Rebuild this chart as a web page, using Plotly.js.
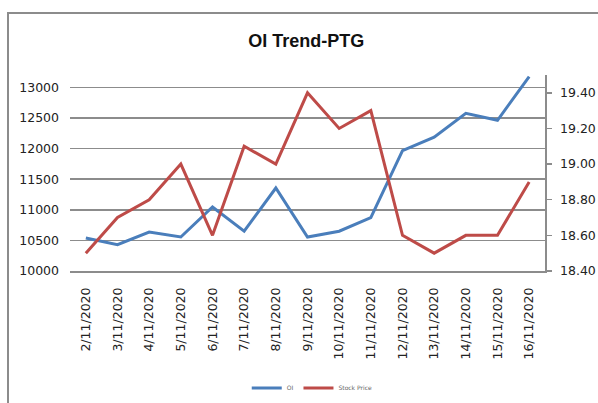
<!DOCTYPE html>
<html>
<head>
<meta charset="utf-8">
<script src="https://cdn.plot.ly/plotly-3.0.1.min.js"></script>
<style>
html,body{margin:0;padding:0;background:#fff;overflow:hidden;}
#frame{position:absolute;left:7px;top:12px;width:700px;height:500px;border:2px solid #8c8c8c;box-sizing:border-box;}
#chart{position:absolute;left:0;top:0;width:598px;height:403px;}
</style>
</head>
<body>
<div id="frame"></div>
<div id="chart"></div>
<script>
const dates = ["2/11/2020","3/11/2020","4/11/2020","5/11/2020","6/11/2020","7/11/2020","8/11/2020","9/11/2020","10/11/2020","11/11/2020","12/11/2020","13/11/2020","14/11/2020","15/11/2020","16/11/2020"];
const oi = [10540,10430,10635,10555,11045,10650,11355,10555,10650,10870,11965,12185,12575,12460,13175];
const stockPrice = [18.50,18.70,18.80,19.00,18.60,19.10,19.00,19.40,19.20,19.30,18.60,18.50,18.60,18.60,18.90];
const leftTicks = [10000,10500,11000,11500,12000,12500,13000];
const rightTicks = [18.40,18.60,18.80,19.00,19.20,19.40];

const tickFont = {family:"DejaVu Sans, Verdana, sans-serif", size:12.5, color:"#222"};

const traces = [
  {x:dates, y:oi, name:"OI", type:"scatter", mode:"lines",
   line:{color:"#4A7EBB", width:3}, yaxis:"y"},
  {x:dates, y:stockPrice, name:"Stock Price", type:"scatter", mode:"lines",
   line:{color:"#BE4B48", width:3}, yaxis:"y2"}
];

const layout = {
  width:598, height:403,
  paper_bgcolor:"rgba(0,0,0,0)", plot_bgcolor:"rgba(0,0,0,0)",
  margin:{l:70, r:53, t:75, b:132},
  title:{text:"<b>OI Trend-PTG</b>", x:0.512, xanchor:"center", y:0.9, yanchor:"middle",
         font:{family:"Liberation Sans, Arial, sans-serif", size:18, color:"#111"}},
  showlegend:true,
  legend:{orientation:"h", x:0.51, xanchor:"center", yref:"container", y:0.037, yanchor:"middle",
          font:{family:"DejaVu Sans, sans-serif", size:6, color:"#666"},
          itemwidth:30, tracegroupgap:0, bgcolor:"rgba(0,0,0,0)"},
  xaxis:{type:"category", tickangle:-90, tickfont:tickFont, showgrid:false,
         showline:true, linecolor:"#8c8c8c", linewidth:1.5, ticks:"",
         ticklabelstandoff:10, range:[-0.5,14.5], fixedrange:true, automargin:false},
  yaxis:{range:[10000,13200], tickvals:leftTicks, ticktext:leftTicks.map(String),
         showgrid:true, gridcolor:"#8c8c8c", gridwidth:1.5, zeroline:false,
         showline:false, ticks:"", tickfont:tickFont, ticklabelstandoff:10, automargin:false},
  yaxis2:{overlaying:"y", side:"right", range:[18.4,19.5], tickvals:rightTicks,
          ticktext:rightTicks.map(v=>v.toFixed(2)), showgrid:false, zeroline:false,
          showline:true, linecolor:"#8c8c8c", linewidth:1.5, ticks:"outside",
          ticklen:5, tickcolor:"#8c8c8c", tickwidth:1.5, tickfont:tickFont,
          ticklabelstandoff:6, automargin:false}
};

Plotly.newPlot("chart", traces, layout, {displayModeBar:false, staticPlot:true});
</script>
</body>
</html>
